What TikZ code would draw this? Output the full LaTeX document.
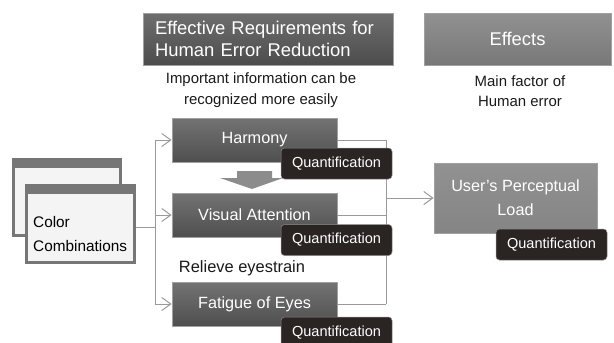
\documentclass[tikz,border=0pt]{standalone}
\usepackage{fontspec}
\setmainfont{Liberation Sans}
\usetikzlibrary{arrows.meta}
\definecolor{bord}{HTML}{A0A0A0}
\definecolor{lin}{HTML}{9A9A9A}
\definecolor{badge}{HTML}{2A2422}
\definecolor{winb}{HTML}{767676}
\definecolor{winf}{HTML}{F4F4F4}
\definecolor{arr}{HTML}{8C8C8C}
\tikzset{
  hdrdark/.style={draw=bord, line width=0.8bp, top color=black!57, bottom color=black!70, shading=axis, text=white, inner sep=0pt,
    font=\fontsize{18.5}{22}\selectfont},
  hdrlight/.style={draw=bord, line width=0.8bp, top color=black!43, bottom color=black!53, shading=axis, text=white, inner sep=0pt,
    font=\fontsize{18.5}{22}\selectfont},
  stepbox/.style={draw=bord, line width=0.8bp, top color=black!55, bottom color=black!69, shading=axis, text=white,
    minimum width=165bp, minimum height=44bp, inner sep=0pt, font=\fontsize{16.3}{19}\selectfont},
  loadbox/.style={draw=bord, line width=0.8bp, top color=black!43, bottom color=black!48, shading=axis, text=white, align=center,
    minimum width=163bp, minimum height=70bp, inner sep=0pt, font=\fontsize{16.3}{24}\selectfont},
  badgebox/.style={draw=black!45, line width=0.5bp, fill=badge, rounded corners=3.5bp, text=white,
    minimum width=111bp, minimum height=31bp, inner sep=0pt, font=\fontsize{14.6}{17}\selectfont},
  note/.style={align=center, text=black!90, inner sep=0pt, font=\fontsize{15}{20.5}\selectfont},
  win/.style={draw=winb, line width=3bp, fill=winf, inner sep=0pt},
  winbar/.style={fill=winb},
  conn/.style={draw=lin, line width=1bp},
  tip/.style={-{Straight Barb[length=9bp,width=13bp,line width=1bp]}},
}
\begin{document}
\begin{tikzpicture}[x=1bp,y=-1bp]
\useasboundingbox (0,0) rectangle (614,342);
% headers
\node[hdrdark, minimum width=250bp, minimum height=52bp, text width=226bp, align=left] (hdrA) at (268,39) {Effective Requirements for\\Human Error Reduction};
\node[hdrlight, minimum width=187bp, minimum height=52bp] (hdrB) at (517.5,39) {Effects};
\node[note] (noteA) at (261,90) {Important information can be\\ recognized more easily};
\node[note] (noteB) at (520,91) {Main factor of\\Human error};
% windows (color combinations)
\node[win, minimum width=106bp, minimum height=75bp] (back) at (67,197.5) {};
\fill[winbar] ([shift={(-0.75,-0.75)}]back.north west) rectangle ([shift={(0.75,9)}]back.north east);
\node[win, minimum width=107bp, minimum height=76bp] (front) at (80.5,224) {};
\fill[winbar] ([shift={(-0.75,-0.75)}]front.north west) rectangle ([shift={(0.75,9.5)}]front.north east);
\node[anchor=west, align=left, inner sep=0pt, font=\fontsize{15.4}{24}\selectfont] (cctxt) at (33,234) {Color\\Combinations};
% steps
\node[stepbox] (harm) at (254.5,140) {Harmony};
\node[stepbox] (vis) at (254.5,215) {Visual Attention};
\node[stepbox] (fat) at (254.5,304) {Fatigue of Eyes};
\node[note, font=\fontsize{16.5}{20}\selectfont] (relieve) at (242,268) {Relieve eyestrain};
% down arrow
\fill[arr] (237,171) -- (272,171) -- (272,178) -- (283,178) -- (252,189) -- (220,178) -- (237,178) -- cycle;
% load
\node[loadbox] (load) at (515.5,198) {User’s Perceptual\\Load};
% left connectors
\coordinate (sl) at (155,227);
\draw[conn] (front.east |- sl) -- (sl);
\draw[conn] (sl |- harm.west) -- (sl |- fat.west);
\draw[conn, tip] (sl |- harm.west) -- (harm.west);
\draw[conn, tip] (sl |- vis.west) -- (vis.west);
\draw[conn, tip] (sl |- fat.west) -- (fat.west);
% right connectors
\coordinate (sr) at (386,198);
\draw[conn] (harm.east) -- (sr |- harm.east);
\draw[conn] (vis.east) -- (sr |- vis.east);
\draw[conn] (fat.east) -- (sr |- fat.east);
\draw[conn] (sr |- harm.east) -- (sr |- fat.east);
\draw[conn, tip] (sr |- load.west) -- (load.west);
% badges
\node[badgebox] (q1) at (336.5,163.5) {Quantification};
\node[badgebox] (q2) at (336.5,240) {Quantification};
\node[badgebox] (q3) at (336.5,332.5) {Quantification};
\node[badgebox] (q4) at (551.5,244.5) {Quantification};
\end{tikzpicture}
\end{document}
